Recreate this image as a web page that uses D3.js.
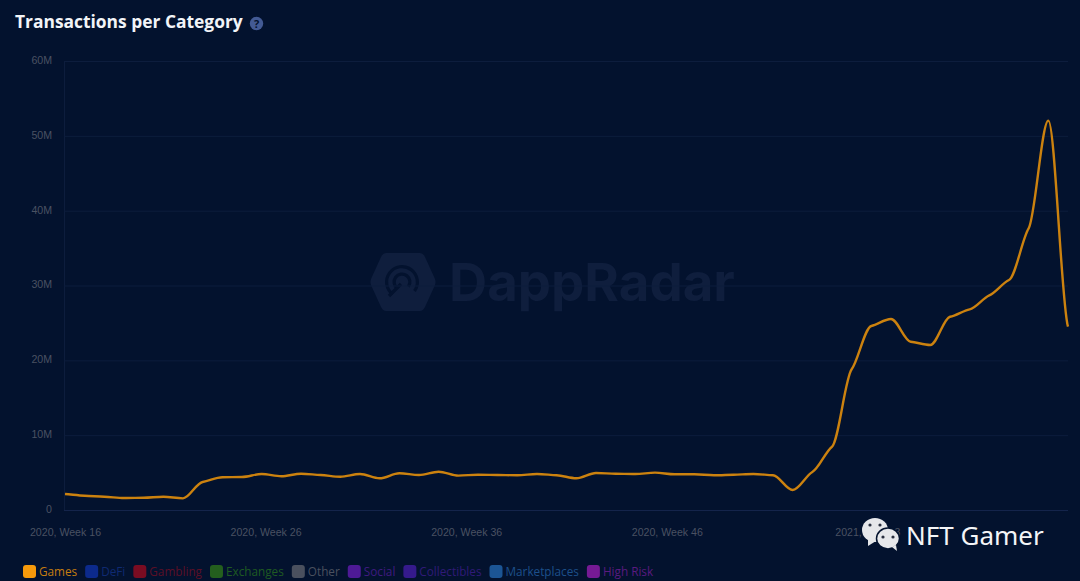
<!DOCTYPE html>
<html>
<head>
<meta charset="utf-8">
<title>Transactions per Category</title>
<script src="https://cdn.jsdelivr.net/npm/d3@7"></script>
<style>
    html, body { margin: 0; padding: 0; background: #03122e; }
    svg { display: block; }
</style>
</head>
<body>
<svg id="chart" width="1080" height="581"></svg>
<script>
// values in millions of transactions, one per week
const gamesValues = [
    2.14, 1.91, 1.78, 1.60, 1.64, 1.78, 1.56, 3.75, 4.37, 4.41,
    4.81, 4.51, 4.85, 4.68, 4.45, 4.81, 4.24, 4.91, 4.68, 5.12,
    4.59, 4.72, 4.68, 4.64, 4.81, 4.64, 4.24, 4.95, 4.85, 4.81,
    4.99, 4.77, 4.77, 4.64, 4.72, 4.81, 4.64, 2.67, 5.08, 8.46,
    18.80, 24.59, 25.52, 22.49, 22.05, 25.82, 26.82, 28.69, 30.74, 37.64,
    52.03, 24.49
];
const yTicks = [0, 10, 20, 30, 40, 50, 60];
const xTickLabels = ["2020, Week 16", "2020, Week 26", "2020, Week 36", "2020, Week 46", "2021, Week 3"];
// the labels do not sit exactly on a data point, so these are fractional week indexes
const xTickIndexes = [0, 10.2, 20.4, 30.6, 40.8];
const legendNames = ["Games", "DeFi", "Gambling", "Exchanges", "Other", "Social", "Collectibles", "Marketplaces", "High Risk"];
const legendSwatches = ["#f79a0b", "#0c2a8c", "#7a0c22", "#245f1e", "#4a505e", "#4e1a96", "#351a8c", "#1c5594", "#761a94"];
const legendTexts = ["#c67d10", "#0f2a72", "#5c0f26", "#1f5a22", "#4a505e", "#3f1a80", "#301a78", "#1c4f8a", "#5a1a80"];

const svg = d3.select('#chart');
const bg = '#03122e';

const x = d3.scaleLinear().domain([0, gamesValues.length - 1]).range([65, 1068]);
const y = d3.scaleLinear().domain([0, 60]).range([510, 61]);

// like monotoneX but with flatter tangents, gives the little shoulders on each week
function shoulderCurve(context) {
    let pts = [];
    return {
        areaStart() {},
        areaEnd() {},
        lineStart() { pts = []; },
        point(px, py) { pts.push([+px, +py]); },
        lineEnd() {
            const n = pts.length;
            const slope = i => (pts[i + 1][1] - pts[i][1]) / (pts[i + 1][0] - pts[i][0]);
            const tangent = i => {
                if (i === 0) return slope(0) * 0.8;
                if (i === n - 1) return slope(n - 2) * 0.3;
                const s0 = slope(i - 1), s1 = slope(i);
                if (s0 * s1 <= 0) return 0;
                return Math.sign(s0) * 0.6 * Math.min(Math.abs(s0), Math.abs(s1));
            };
            context.moveTo(pts[0][0], pts[0][1]);
            for (let i = 0; i < n - 1; i++) {
                const h = (pts[i + 1][0] - pts[i][0]) / 3;
                context.bezierCurveTo(
                    pts[i][0] + h, pts[i][1] + h * tangent(i),
                    pts[i + 1][0] - h, pts[i + 1][1] - h * tangent(i + 1),
                    pts[i + 1][0], pts[i + 1][1]);
            }
        }
    };
}

// watermark goes under everything else
const mark = svg.append('g').attr('transform', 'translate(403,282)');
mark.append('path')
    .attr('d', 'M-17,-29 L17,-29 Q20,-29 22,-25 L32,-3 Q33,0 32,3 L22,25 Q20,29 17,29 L-17,29 Q-20,29 -22,25 L-32,3 Q-33,0 -32,-3 L-22,-25 Q-20,-29 -17,-29 Z')
    .attr('fill', '#0f1e3d');
[17, 9.5].forEach(r => {
    mark.append('path')
        .attr('transform', 'translate(-1,0)')
        .attr('d', d3.arc()({ innerRadius: r - 3.2, outerRadius: r, startAngle: -2.5, endAngle: 2.2 }))
        .attr('fill', bg);
});
mark.append('line')
    .attr('x1', -14).attr('y1', 14).attr('x2', -2).attr('y2', 2)
    .attr('stroke', bg).attr('stroke-width', 3.2);
svg.append('text')
    .attr('x', 449).attr('y', 301)
    .attr('font-family', 'Inter, "Open Sans", sans-serif')
    .attr('font-weight', 700)
    .attr('font-size', 52.8)
    .attr('fill', '#0f1e3d')
    .text('DappRadar');

// grid + y labels
const yAxis = svg.append('g')
    .attr('transform', 'translate(64,0)')
    .call(d3.axisLeft(y).tickValues(yTicks).tickSize(-1004).tickPadding(12)
        .tickFormat(d => d === 0 ? '0' : d + 'M'));
yAxis.select('.domain').attr('stroke', '#0d1d3d');
yAxis.selectAll('.tick line')
    .attr('stroke', d => d === 0 ? '#14244b' : '#0d1d3d');
yAxis.selectAll('.tick text')
    .attr('dy', '0.22em')
    .attr('fill', '#4a5162')
    .attr('font-family', '"Liberation Sans", Arial, sans-serif')
    .attr('font-size', 10.6);

// x labels
const xAxis = svg.append('g')
    .attr('transform', 'translate(0,510)')
    .call(d3.axisBottom(x).tickValues(xTickIndexes).tickSize(0).tickPadding(18)
        .tickFormat((d, i) => xTickLabels[i]));
xAxis.select('.domain').remove();
xAxis.selectAll('.tick text')
    .attr('fill', '#4a5162')
    .attr('font-family', '"Liberation Sans", Arial, sans-serif')
    .attr('font-size', 10.6);

// the line
const line = d3.line()
    .x((d, i) => x(i))
    .y(d => y(d))
    .curve(shoulderCurve);
svg.append('path')
    .datum(gamesValues)
    .attr('d', line)
    .attr('fill', 'none')
    .attr('stroke', '#cc820f')
    .attr('stroke-width', 2.4);

// title
svg.append('text')
    .attr('x', 15).attr('y', 28)
    .attr('font-family', '"Open Sans", sans-serif')
    .attr('font-weight', 700)
    .attr('font-size', 17.4)
    .attr('fill', '#f2f4f8')
    .text('Transactions per Category');
svg.append('circle')
    .attr('cx', 256.5).attr('cy', 23.5).attr('r', 6.7)
    .attr('fill', '#435a94');
svg.append('text')
    .attr('x', 256.5).attr('y', 27.5)
    .attr('text-anchor', 'middle')
    .attr('font-family', '"Open Sans", sans-serif')
    .attr('font-weight', 700)
    .attr('font-size', 11)
    .attr('fill', bg)
    .text('?');

// legend, laid out left to right from the measured text widths
let legendX = 23;
legendNames.forEach((name, i) => {
    svg.append('rect')
        .attr('x', legendX).attr('y', 565)
        .attr('width', 13).attr('height', 13).attr('rx', 3)
        .attr('fill', legendSwatches[i]);
    const label = svg.append('text')
        .attr('x', legendX + 16).attr('y', 576)
        .attr('font-family', '"Open Sans", sans-serif')
        .attr('font-size', 11.75)
        .attr('fill', legendTexts[i])
        .text(name);
    legendX += 16 + label.node().getComputedTextLength() + 8;
});

// wechat stamp over the last tick label
const stamp = svg.append('g').attr('fill', '#e6e7ea');
stamp.append('ellipse').attr('cx', 875).attr('cy', 530).attr('rx', 13).attr('ry', 12);
stamp.append('path').attr('d', 'M868,539 L868,546 L876,541 Z');
stamp.append('ellipse').attr('cx', 888).attr('cy', 538.5)
    .attr('rx', 11.5).attr('ry', 10.5)
    .attr('stroke', bg).attr('stroke-width', 1.5);
stamp.append('path').attr('d', 'M892,547 L897,551 L896,545 Z');
[[870, 525], [880, 525], [883, 537], [893, 537]].forEach(p => {
    svg.append('circle').attr('cx', p[0]).attr('cy', p[1]).attr('r', 1.6).attr('fill', '#2a3040');
});
svg.append('text')
    .attr('x', 906).attr('y', 545)
    .attr('font-family', '"Noto Sans", sans-serif')
    .attr('font-size', 26)
    .attr('fill', '#f4f5f7')
    .text('NFT Gamer');
</script>
</body>
</html>
